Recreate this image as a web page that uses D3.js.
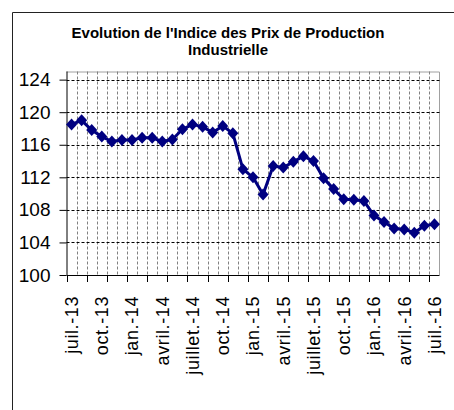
<!DOCTYPE html>
<html>
<head>
    <meta charset="utf-8">
    <title>Indice des Prix de Production Industrielle</title>
    <style>
        body { margin: 0; background: white; }
        text { font-family: "Liberation Sans", Arial, sans-serif; fill: black; }
        .title { font-weight: bold; font-size: 15px; }
        .ylab { font-size: 19px; }
        .xlab { font-size: 18px; letter-spacing: 0.6px; }
    </style>
    <script src="https://cdn.jsdelivr.net/npm/d3@7"></script>
</head>
<body>
    <svg width="454" height="410"></svg>

    <script>
        // monthly categories, juil.-13 to juil.-16
        const months = [
            "juil.-13", "août-13", "sept.-13", "oct.-13", "nov.-13", "déc.-13",
            "jan.-14", "févr.-14", "mars-14", "avril.-14", "mai-14", "juin-14",
            "juillet.-14", "août-14", "sept.-14", "oct.-14", "nov.-14", "déc.-14",
            "jan.-15", "févr.-15", "mars-15", "avril.-15", "mai-15", "juin-15",
            "juillet.-15", "août-15", "sept.-15", "oct.-15", "nov.-15", "déc.-15",
            "jan.-16", "févr.-16", "mars-16", "avril.-16", "mai-16", "juin-16",
            "juil.-16"
        ];
        const ippi = [
            118.5, 119.0, 117.8, 117.0, 116.4, 116.6, 116.6, 116.85, 116.85, 116.4,
            116.65, 117.9, 118.5, 118.2, 117.5, 118.3, 117.4, 113.0, 112.0, 109.9,
            113.4, 113.2, 113.9, 114.6, 114.0, 111.9, 110.55, 109.3, 109.25, 109.1,
            107.3, 106.5, 105.7, 105.6, 105.2, 106.05, 106.25
        ];
        const yTicks = [100, 104, 108, 112, 116, 120, 124];
        const titleLines = ["Evolution de l'Indice des Prix de Production", "Industrielle"];

        const svg = d3.select("svg");
        const pLeft = 66.5, pRight = 439.5, pTop = 71.5, pBottom = 275;

        const x = d3.scaleBand().domain(months).range([pLeft, pRight]);
        const y = d3.scaleLinear().domain([100, 125]).range([pBottom, pTop]);

        // outer frame (only top and left edges visible)
        svg.append("path")
            .attr("d", "M12.5,410 V12.5 H454")
            .attr("fill", "none")
            .attr("stroke", "#222")
            .attr("stroke-width", 1);

        svg.selectAll(".title")
            .data(titleLines)
            .enter().append("text")
            .attr("class", "title")
            .attr("x", 228)
            .attr("y", (d, i) => 38 + i * 17)
            .attr("text-anchor", "middle")
            .text(d => d);

        // plot border top/right
        svg.append("path")
            .attr("d", `M${pLeft},${pTop + 0.5} H${pRight} V${pBottom}`)
            .attr("fill", "none")
            .attr("stroke", "#a0a0a0");

        // vertical grid at band boundaries
        const bounds = months.slice(1).map(m => x(m));
        svg.selectAll(".vgrid")
            .data(bounds)
            .enter().append("line")
            .attr("class", "vgrid")
            .attr("x1", d => Math.round(d) + 0.5)
            .attr("x2", d => Math.round(d) + 0.5)
            .attr("y1", pTop)
            .attr("y2", pBottom)
            .attr("stroke", "#808080")
            .attr("stroke-dasharray", "3,2");

        // horizontal grid
        svg.selectAll(".hgrid")
            .data(yTicks.slice(1))
            .enter().append("line")
            .attr("class", "hgrid")
            .attr("x1", pLeft)
            .attr("x2", pRight)
            .attr("y1", d => Math.round(y(d)) + 0.5)
            .attr("y2", d => Math.round(y(d)) + 0.5)
            .attr("stroke", "#000")
            .attr("stroke-dasharray", "3,2");

        // y axis
        const yAxis = svg.append("g")
            .attr("transform", `translate(${pLeft},0)`)
            .call(d3.axisLeft(y).tickValues(yTicks).tickSize(7).tickPadding(9));
        yAxis.select(".domain").attr("d", `M0.5,${pTop} V${pBottom}`).attr("stroke", "#000");
        yAxis.selectAll("text").attr("class", "ylab").attr("fill", "#000");
        yAxis.attr("font-family", null).attr("font-size", null);

        // x axis: ticks every 2 months at band boundaries
        const tickBounds = months.map((m, i) => i).filter(i => i % 2 === 0)
            .map(i => pLeft + i * x.bandwidth());
        svg.append("line")
            .attr("x1", pLeft).attr("x2", pRight)
            .attr("y1", Math.round(pBottom) + 0.5).attr("y2", Math.round(pBottom) + 0.5)
            .attr("stroke", "#000");
        svg.selectAll(".xtick")
            .data(tickBounds)
            .enter().append("line")
            .attr("class", "xtick")
            .attr("x1", d => Math.round(d) + 0.5)
            .attr("x2", d => Math.round(d) + 0.5)
            .attr("y1", pBottom)
            .attr("y2", pBottom + 7)
            .attr("stroke", "#000");

        // labels every 3 months, rotated
        svg.selectAll(".xlab")
            .data(months.filter((m, i) => i % 3 === 0))
            .enter().append("text")
            .attr("class", "xlab")
            .attr("text-anchor", "end")
            .attr("dy", "0.35em")
            .attr("transform", d => `translate(${x(d) + x.bandwidth() / 2},296) rotate(-90)`)
            .text(d => d);

        // series
        const pts = months.map((m, i) => [x(m) + x.bandwidth() / 2, y(ippi[i])]);
        svg.append("path")
            .attr("d", d3.line()(pts))
            .attr("fill", "none")
            .attr("stroke", "#000080")
            .attr("stroke-width", 3)
            .attr("stroke-linejoin", "round");

        svg.selectAll(".mark")
            .data(pts)
            .enter().append("path")
            .attr("class", "mark")
            .attr("d", "M0,-6 L5.5,0 L0,6 L-5.5,0 Z")
            .attr("transform", d => `translate(${d[0]},${d[1]})`)
            .attr("fill", "#000080");
    </script>
</body>
</html>
